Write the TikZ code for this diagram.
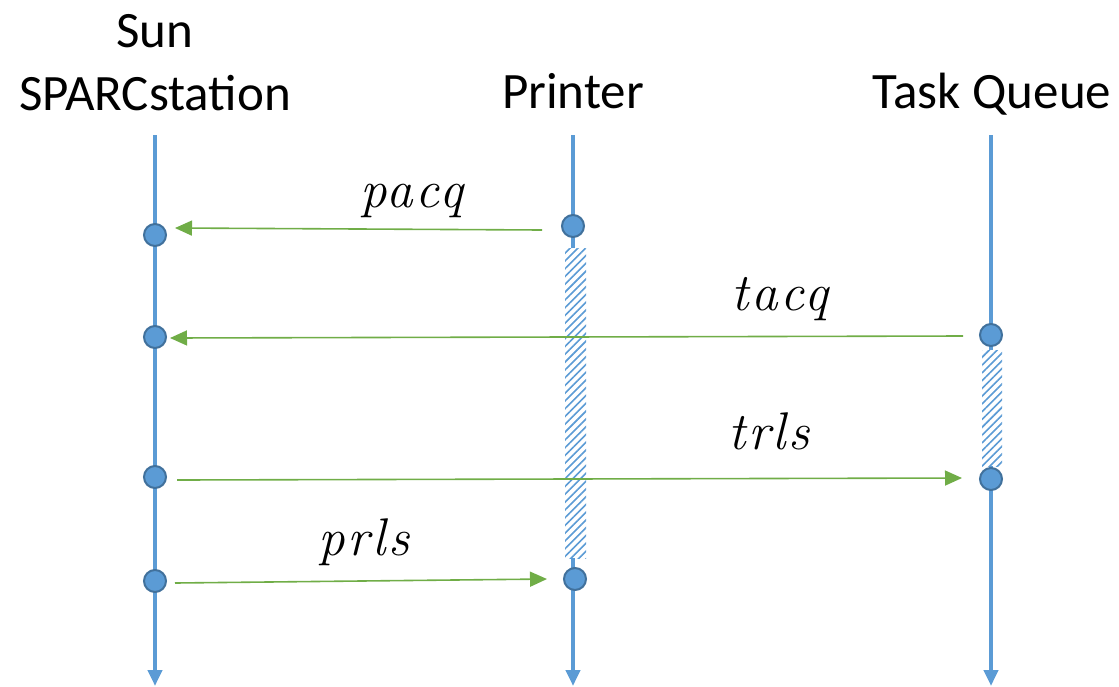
\documentclass[tikz,border=0pt]{standalone}
\usepackage{fontspec}
\newfontfamily\titlefont{Carlito}
\newfontfamily\labelfont{Latin Modern Roman}[LetterSpace=5]
\usetikzlibrary{arrows.meta,patterns.meta}
\definecolor{lifeblue}{HTML}{5B9BD5}
\definecolor{dotedge}{HTML}{41719C}
\definecolor{msggreen}{HTML}{70AD47}

\begin{document}
\begin{tikzpicture}[x=1pt,y=-1pt,
  lifeline/.style={draw=lifeblue, line width=4pt, -{Triangle[length=16pt,width=14pt]}},
  event/.style={circle, fill=lifeblue, draw=dotedge, line width=2pt, minimum size=22pt, inner sep=0pt},
  msg/.style={draw=msggreen, line width=1.6pt, -{Triangle[length=17pt,width=15pt]}},
  busy/.style={pattern={Lines[angle=45,distance=5.5pt,line width=1.6pt]}, pattern color=lifeblue},
  head/.style={font=\titlefont\fontsize{51}{63}\selectfont, align=center, inner sep=0pt, anchor=base},
  lbl/.style={font=\labelfont\itshape\fontsize{53}{60}\selectfont, inner sep=0pt, anchor=base,
    draw=none, text=black}]

\useasboundingbox (0,0) rectangle (1119,686);

% column headings
\node[head] (hsun) at (155,110) {Sun\\SPARCstation};
\node[head] (hprn) at (573,108) {Printer};
\node[head] (htq)  at (992,108) {Task Queue};

% lifeline ends
\coordinate (suntop) at (155,135);
\coordinate (sunbot) at (155,686);
\coordinate (prntop) at (573,135);
\coordinate (prnbot) at (573,686);
\coordinate (tqtop)  at (991,135);
\coordinate (tqbot)  at (991,686);

\draw[lifeline] (suntop) -- (sunbot);
\draw[lifeline] (prntop) -- (prnbot);
\draw[lifeline] (tqtop) -- (tqbot);

% busy intervals
\fill[white] (565,248) rectangle (586,558);
\path[busy] (565,248) rectangle (586,558);
\fill[white] (982,350) rectangle (1002,466);
\path[busy] (982,350) rectangle (1002,466);

% events
\node[event] (s1) at (155,235) {};
\node[event] (s2) at (155,337) {};
\node[event] (s3) at (155,477) {};
\node[event] (s4) at (155,581) {};
\node[event] (p1) at (573,226) {};
\node[event] (p2) at (575,579) {};
\node[event] (t1) at (991,335) {};
\node[event] (t2) at (991,479) {};

% message end points
\coordinate (pacqA) at (542,230);
\coordinate (pacqB) at (175,228);
\coordinate (tacqA) at (963,336);
\coordinate (tacqB) at (170,338);
\coordinate (trlsA) at (177,480);
\coordinate (trlsB) at (962,478);
\coordinate (prlsA) at (175,583);
\coordinate (prlsB) at (547,579);

\draw[msg] (pacqA) -- (pacqB);
\draw[msg] (tacqA) -- (tacqB);
\draw[msg] (trlsA) -- (trlsB);
\draw[msg] (prlsA) -- (prlsB);

% message labels
\node[lbl] (lpacq) at (412,207) {pacq};
\node[lbl] (ltacq) at (780,310) {tacq};
\node[lbl] (ltrls) at (769,449) {trls};
\node[lbl] (lprls) at (364,555) {prls};
\end{tikzpicture}
\end{document}
